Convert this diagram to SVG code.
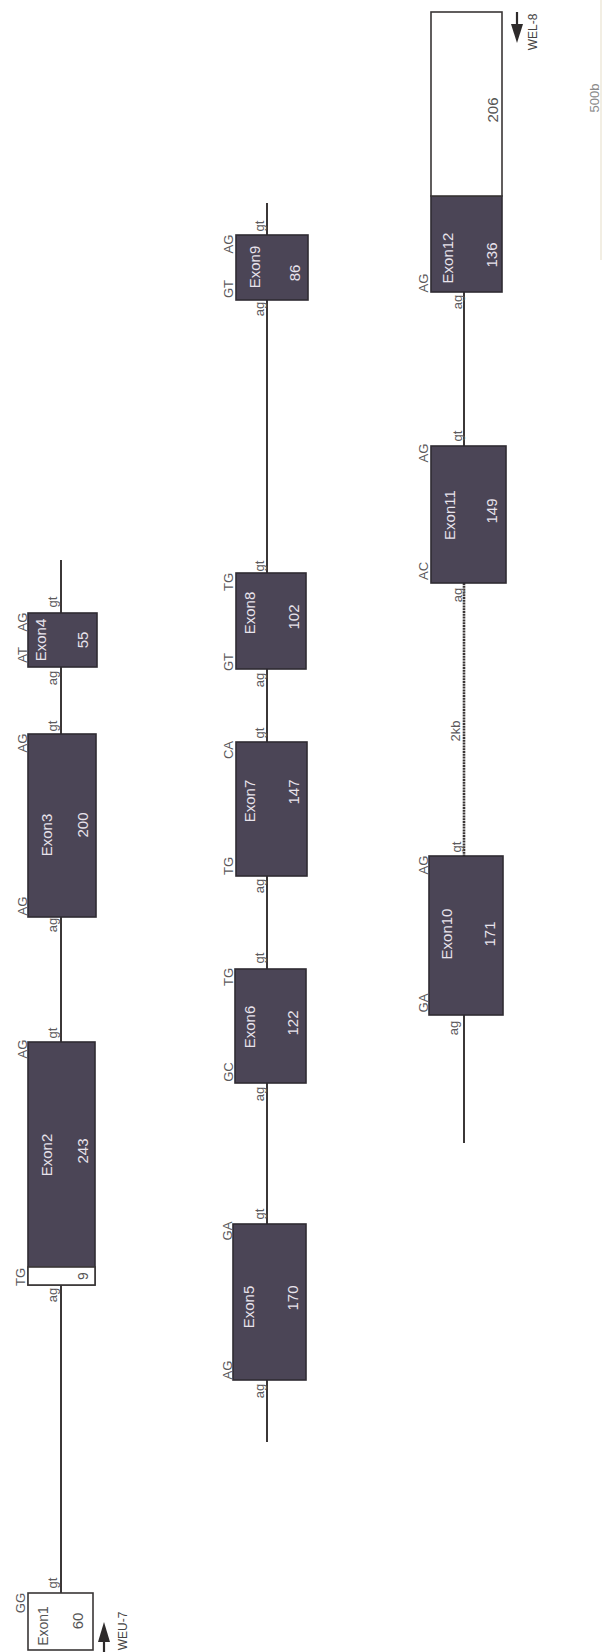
<svg xmlns="http://www.w3.org/2000/svg" width="602" height="1652" viewBox="0 0 602 1652">
<style>
.ex{fill:#4b4556;stroke:#2f2b32;stroke-width:1.6}
.wh{fill:#ffffff;stroke:#3a3636;stroke-width:1.6}
.ln{stroke:#3b3737;stroke-width:2;fill:none}
.kb{stroke:#3a3535;stroke-width:2.6;stroke-dasharray:2 0.8;fill:none}
.sl{font-family:"Liberation Sans",Arial,sans-serif;font-size:13px;fill:#5c5a5c}
.et{font-family:"Liberation Sans",Arial,sans-serif;font-size:15px;fill:#e8e3ec}
.nt{font-family:"Liberation Sans",Arial,sans-serif;font-size:15px;fill:#e8e3ec}
.dn{font-family:"Liberation Sans",Arial,sans-serif;font-size:15px;fill:#555}
.pr{font-family:"Liberation Sans",Arial,sans-serif;font-size:12px;fill:#444}
.ar{fill:#2e2b2b}
text{text-anchor:middle}
</style>
<rect width="602" height="1652" fill="#ffffff"/>
<g id="connectors">
<line class="ln" x1="61" y1="560" x2="61" y2="613"/>
<line class="ln" x1="61" y1="667" x2="61" y2="734"/>
<line class="ln" x1="61" y1="917" x2="61" y2="1042"/>
<line class="ln" x1="61" y1="1285" x2="61" y2="1593"/>
<line class="ln" x1="267" y1="203" x2="267" y2="235"/>
<line class="ln" x1="267" y1="300" x2="267" y2="573"/>
<line class="ln" x1="267" y1="669" x2="267" y2="742"/>
<line class="ln" x1="267" y1="876" x2="267" y2="969"/>
<line class="ln" x1="267" y1="1083" x2="267" y2="1224"/>
<line class="ln" x1="267" y1="1380" x2="267" y2="1442"/>
<line class="ln" x1="464" y1="292" x2="464" y2="446"/>
<line class="kb" x1="464" y1="583" x2="464" y2="856"/>
<line class="ln" x1="464" y1="1015" x2="464" y2="1143"/>
</g>
<g id="exon1">
<rect class="wh" x="28" y="1593" width="65" height="57"/>
<text class="sl" x="25" y="1603" transform="rotate(-90 25 1603)">GG</text>
<text class="sl" x="57" y="1583" transform="rotate(-90 57 1583)">gt</text>
<text class="dn" x="48" y="1626" transform="rotate(-90 48 1626)" style="font-size:14px">Exon1</text>
<text class="dn" x="83" y="1621" transform="rotate(-90 83 1621)">60</text>
</g>
<g id="weu7">
<line x1="104" y1="1640" x2="104" y2="1652" stroke="#2e2b2b" stroke-width="2.2"/>
<polygon class="ar" points="104,1622 98,1642 110,1642"/>
<text class="pr" x="127" y="1631" transform="rotate(-90 127 1631)">WEU-7</text>
</g>
<g id="exon2">
<rect class="ex" x="28" y="1042" width="67" height="243"/>
<rect class="wh" x="28" y="1267" width="67" height="18"/>
<text class="sl" x="27" y="1049" transform="rotate(-90 27 1049)">AG</text>
<text class="sl" x="57" y="1033" transform="rotate(-90 57 1033)">gt</text>
<text class="sl" x="25" y="1277" transform="rotate(-90 25 1277)">TG</text>
<text class="sl" x="57" y="1295" transform="rotate(-90 57 1295)">ag</text>
<text class="et" x="52" y="1155" transform="rotate(-90 52 1155)">Exon2</text>
<text class="nt" x="88" y="1151" transform="rotate(-90 88 1151)">243</text>
<text class="dn" x="88" y="1276" transform="rotate(-90 88 1276)" style="font-size:14px">9</text>
</g>
<g id="exon3">
<rect class="ex" x="28" y="734" width="68" height="183"/>
<text class="sl" x="27" y="743" transform="rotate(-90 27 743)">AG</text>
<text class="sl" x="57" y="726" transform="rotate(-90 57 726)">gt</text>
<text class="sl" x="27" y="906" transform="rotate(-90 27 906)">AG</text>
<text class="sl" x="57" y="925" transform="rotate(-90 57 925)">ag</text>
<text class="et" x="52" y="835" transform="rotate(-90 52 835)">Exon3</text>
<text class="nt" x="88" y="825" transform="rotate(-90 88 825)">200</text>
</g>
<g id="exon4">
<rect class="ex" x="28" y="613" width="69" height="54"/>
<text class="sl" x="27" y="622" transform="rotate(-90 27 622)">AG</text>
<text class="sl" x="27" y="655" transform="rotate(-90 27 655)">AT</text>
<text class="sl" x="57" y="602" transform="rotate(-90 57 602)">gt</text>
<text class="sl" x="57" y="678" transform="rotate(-90 57 678)">ag</text>
<text class="et" x="46" y="640" transform="rotate(-90 46 640)">Exon4</text>
<text class="nt" x="88" y="640" transform="rotate(-90 88 640)">55</text>
</g>
<g id="exon5">
<rect class="ex" x="233" y="1224" width="73" height="156"/>
<text class="sl" x="232" y="1231" transform="rotate(-90 232 1231)">GA</text>
<text class="sl" x="264" y="1214" transform="rotate(-90 264 1214)">gt</text>
<text class="sl" x="232" y="1370" transform="rotate(-90 232 1370)">AG</text>
<text class="sl" x="264" y="1391" transform="rotate(-90 264 1391)">ag</text>
<text class="et" x="254" y="1307" transform="rotate(-90 254 1307)">Exon5</text>
<text class="nt" x="298" y="1298" transform="rotate(-90 298 1298)">170</text>
</g>
<g id="exon6">
<rect class="ex" x="235" y="969" width="71" height="114"/>
<text class="sl" x="233" y="977" transform="rotate(-90 233 977)">TG</text>
<text class="sl" x="264" y="958" transform="rotate(-90 264 958)">gt</text>
<text class="sl" x="233" y="1072" transform="rotate(-90 233 1072)">GC</text>
<text class="sl" x="264" y="1094" transform="rotate(-90 264 1094)">ag</text>
<text class="et" x="255" y="1027" transform="rotate(-90 255 1027)">Exon6</text>
<text class="nt" x="298" y="1023" transform="rotate(-90 298 1023)">122</text>
</g>
<g id="exon7">
<rect class="ex" x="236" y="742" width="71" height="134"/>
<text class="sl" x="233" y="750" transform="rotate(-90 233 750)">CA</text>
<text class="sl" x="264" y="733" transform="rotate(-90 264 733)">gt</text>
<text class="sl" x="233" y="866" transform="rotate(-90 233 866)">TG</text>
<text class="sl" x="264" y="886" transform="rotate(-90 264 886)">ag</text>
<text class="et" x="255" y="801" transform="rotate(-90 255 801)">Exon7</text>
<text class="nt" x="299" y="792" transform="rotate(-90 299 792)">147</text>
</g>
<g id="exon8">
<rect class="ex" x="236" y="573" width="70" height="96"/>
<text class="sl" x="233" y="582" transform="rotate(-90 233 582)">TG</text>
<text class="sl" x="264" y="566" transform="rotate(-90 264 566)">gt</text>
<text class="sl" x="233" y="662" transform="rotate(-90 233 662)">GT</text>
<text class="sl" x="264" y="680" transform="rotate(-90 264 680)">ag</text>
<text class="et" x="255" y="613" transform="rotate(-90 255 613)">Exon8</text>
<text class="nt" x="299" y="617" transform="rotate(-90 299 617)">102</text>
</g>
<g id="exon9">
<rect class="ex" x="236" y="235" width="72" height="65"/>
<text class="sl" x="233" y="244" transform="rotate(-90 233 244)">AG</text>
<text class="sl" x="264" y="226" transform="rotate(-90 264 226)">gt</text>
<text class="sl" x="233" y="289" transform="rotate(-90 233 289)">GT</text>
<text class="sl" x="264" y="309" transform="rotate(-90 264 309)">ag</text>
<text class="et" x="260" y="267" transform="rotate(-90 260 267)">Exon9</text>
<text class="nt" x="300" y="273" transform="rotate(-90 300 273)">86</text>
</g>
<g id="exon10">
<rect class="ex" x="429" y="856" width="74" height="159"/>
<text class="sl" x="428" y="865" transform="rotate(-90 428 865)">AG</text>
<text class="sl" x="461" y="847" transform="rotate(-90 461 847)">gt</text>
<text class="sl" x="428" y="1003" transform="rotate(-90 428 1003)">GA</text>
<text class="sl" x="458" y="1028" transform="rotate(-90 458 1028)">ag</text>
<text class="et" x="452" y="934" transform="rotate(-90 452 934)">Exon10</text>
<text class="nt" x="495" y="934" transform="rotate(-90 495 934)">171</text>
</g>
<g id="exon11">
<rect class="ex" x="431" y="446" width="75" height="137"/>
<text class="sl" x="428" y="453" transform="rotate(-90 428 453)">AG</text>
<text class="sl" x="462" y="436" transform="rotate(-90 462 436)">gt</text>
<text class="sl" x="428" y="571" transform="rotate(-90 428 571)">AC</text>
<text class="sl" x="462" y="595" transform="rotate(-90 462 595)">ag</text>
<text class="et" x="455" y="515" transform="rotate(-90 455 515)">Exon11</text>
<text class="nt" x="497" y="511" transform="rotate(-90 497 511)">149</text>
<text class="sl" x="460" y="731" transform="rotate(-90 460 731)">2kb</text>
</g>
<g id="exon12">
<rect class="ex" x="431" y="196" width="71" height="96"/>
<rect class="wh" x="431" y="12" width="71" height="184"/>
<text class="sl" x="428" y="283" transform="rotate(-90 428 283)">AG</text>
<text class="sl" x="462" y="302" transform="rotate(-90 462 302)">ag</text>
<text class="et" x="453" y="258" transform="rotate(-90 453 258)">Exon12</text>
<text class="nt" x="497" y="255" transform="rotate(-90 497 255)">136</text>
<text class="dn" x="498" y="110" transform="rotate(-90 498 110)">206</text>
</g>
<g id="wel8">
<line x1="517" y1="12" x2="517" y2="28" stroke="#2e2b2b" stroke-width="2.2"/>
<polygon class="ar" points="511,24 523,24 517,43"/>
<text class="pr" x="537" y="32" transform="rotate(-90 537 32)">WEL-8</text>
</g>
<g id="scale">
<line x1="601" y1="0" x2="601" y2="260" stroke="#eee8da" stroke-width="1.5"/>
<text class="sl" x="599" y="98" transform="rotate(-90 599 98)" style="fill:#8a8a8a">500b</text>
</g>
</svg>
